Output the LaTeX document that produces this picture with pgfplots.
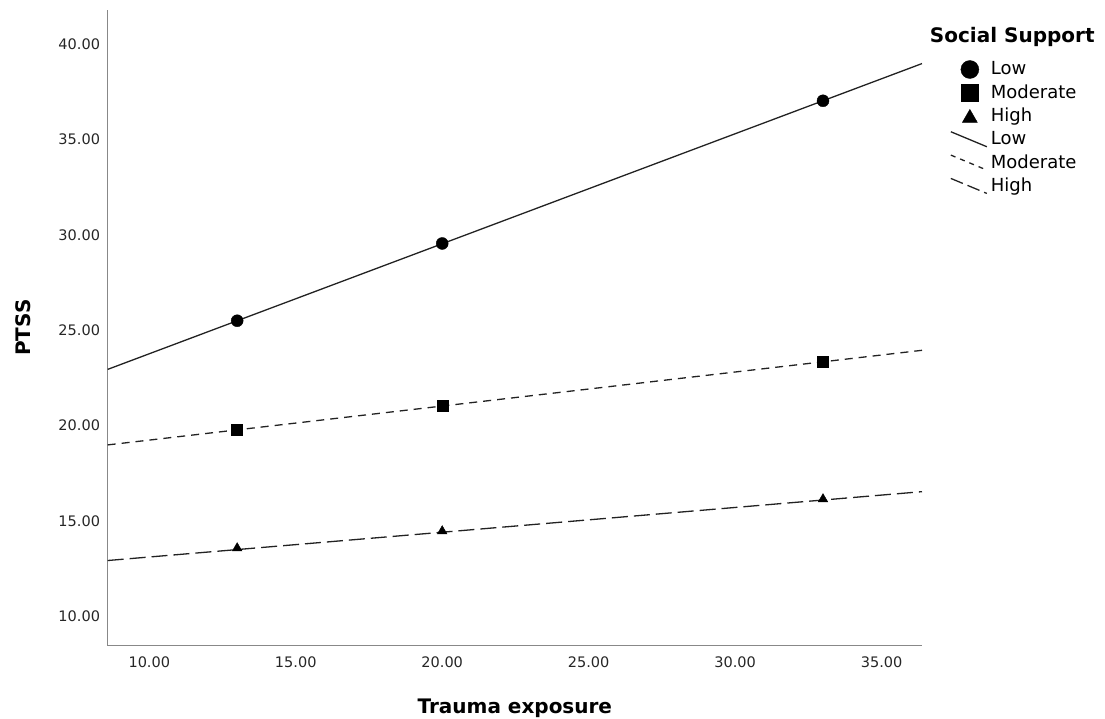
\documentclass[border=0pt]{standalone}
\usepackage{fontspec}
\setmainfont{DejaVu Sans}
\usepackage{pgfplots}
\pgfplotsset{compat=1.18}
\definecolor{axisgray}{HTML}{888888}
\definecolor{linegray}{HTML}{222222}
\begin{document}
\begin{tikzpicture}[x=1pt,y=1pt]
\begin{axis}[
  at={(0,0)}, anchor=south west,
  scale only axis, width=814.3pt, height=636pt,
  xmin=8.58, xmax=36.38, ymin=8.47, ymax=41.81,
  axis x line*=bottom, axis y line*=left,
  axis line style={draw=axisgray, line width=1.3pt},
  xtick={10,15,...,35}, ytick={10,15,...,40},
  major tick length=0pt,
  /pgf/number format/.cd, fixed, fixed zerofill, precision=2, assume math mode=true,
  /pgfplots/.cd,
  ticklabel style={font=\fontsize{14.5}{16}\selectfont, inner sep=0pt, text=black!85},
  xticklabel style={anchor=north, yshift=-10.5pt},
  yticklabel style={anchor=east, xshift=-7.5pt},
  xlabel={Trauma exposure}, ylabel={PTSS},
  xlabel style={at={(axis description cs:0.5,-0.106)}, anchor=base, font=\fontsize{20}{24}\selectfont\bfseries},
  ylabel style={at={(axis description cs:-0.0954,0.5)}, anchor=base, rotate=0, font=\fontsize{20}{24}\selectfont\bfseries},
  clip=false,
  legend style={at={(axis description cs:1.0344,0.9206)}, anchor=north west, draw=none, fill=none,
    font=\fontsize{18}{20}\selectfont, inner sep=0pt, row sep=5.35pt,
    nodes={inner sep=0pt, text height=14pt, text depth=4pt}},
  legend cell align=left,
]
% markers (plotted values)
\addplot[only marks, mark=*, mark size=6pt, color=black, forget plot] coordinates {(13,25.50) (20,29.55) (33,37.03)};
\addplot[only marks, mark=square*, mark size=5.5pt, color=black, forget plot] coordinates {(13,19.78) (20,21.04) (33,23.35)};
\addplot[only marks, mark=triangle*, mark size=5.5pt, color=black, forget plot] coordinates {(13,13.58) (20,14.47) (33,16.15)};
% fit lines
\addplot[no marks, linegray, line width=1.3pt, solid, forget plot] coordinates {(8.58,22.95) (36.38,38.98)};
\addplot[no marks, linegray, line width=1.3pt, dash pattern=on 8pt off 6pt, forget plot] coordinates {(8.58,18.99) (36.38,23.95)};
\addplot[no marks, linegray, line width=1.3pt, dash pattern=on 16pt off 6pt, forget plot] coordinates {(8.58,12.93) (36.38,16.54)};
% legend entries
\addlegendimage{legend image code/.code={\path[draw=none,fill=none] (-19pt,0pt) -- (21pt,0pt); \fill[black] (0pt,0pt) circle (9pt);}}
\addlegendentry{Low}
\addlegendimage{legend image code/.code={\path[draw=none,fill=none] (-19pt,0pt) -- (21pt,0pt); \fill[black] (-8.5pt,-8.5pt) rectangle (8.5pt,8.5pt);}}
\addlegendentry{Moderate}
\addlegendimage{legend image code/.code={\path[draw=none,fill=none] (-19pt,0pt) -- (21pt,0pt); \fill[black] (-7.5pt,-6pt) -- (7.5pt,-6pt) -- (0pt,7pt) -- cycle;}}
\addlegendentry{High}
\addlegendimage{legend image code/.code={\path[draw=none,fill=none] (-19pt,0pt) -- (21pt,0pt); \draw[linegray, line width=1.3pt, solid] (-19pt,8pt) -- (17pt,-7pt);}}
\addlegendentry{Low}
\addlegendimage{legend image code/.code={\path[draw=none,fill=none] (-19pt,0pt) -- (21pt,0pt); \draw[linegray, line width=1.3pt, dash pattern=on 5pt off 5pt] (-19pt,8pt) -- (17pt,-7pt);}}
\addlegendentry{Moderate}
\addlegendimage{legend image code/.code={\path[draw=none,fill=none] (-19pt,0pt) -- (21pt,0pt); \draw[linegray, line width=1.3pt, dash pattern=on 13pt off 5pt] (-19pt,8pt) -- (17pt,-7pt);}}
\addlegendentry{High}
\node[anchor=base west, font=\fontsize{20}{24}\selectfont\bfseries, inner sep=0pt] at (axis description cs:1.0095,0.9484) {Social Support};
\end{axis}
\pgfresetboundingbox
\path (-107.7pt,-72.4pt) rectangle (997.3pt,645.6pt);
\end{tikzpicture}
\end{document}
